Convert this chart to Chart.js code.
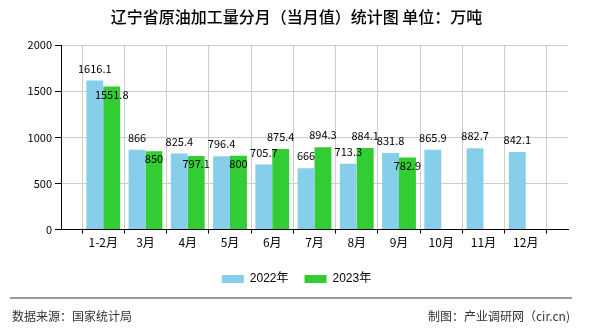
<!DOCTYPE html>
<html>
<head>
<meta charset="utf-8">
<script src="https://cdn.jsdelivr.net/npm/chart.js@4.4.0/dist/chart.umd.min.js"></script>
<style>
  body { margin: 0; background: #fff; }
  #wrap { position: relative; width: 590px; height: 330px; }
  #sep { position: absolute; left: 10px; top: 297px; width: 562px; height: 0; border-top: 2px solid #999; }
  .foot { position: absolute; top: 307px; font: 12px "Noto Sans CJK SC", sans-serif; color: #333; line-height: 18px; }
</style>
</head>
<body>
<div id="wrap">
  <canvas id="grafico" width="590" height="330"></canvas>
  <div id="sep"></div>
  <div class="foot" style="left:12px">数据来源：国家统计局</div>
  <div class="foot" style="right:20px">制图：产业调研网（cir.cn)</div>
</div>
<script>
const titulo = '辽宁省原油加工量分月（当月值）统计图 单位：万吨';
const categorias = ['1-2月', '3月', '4月', '5月', '6月', '7月', '8月', '9月', '10月', '11月', '12月'];
const series = ['2022年', '2023年'];
const valores2022 = [1616.1, 866, 825.4, 796.4, 705.7, 666, 713.3, 831.8, 865.9, 882.7, 842.1];
const valores2023 = [1551.8, 850, 797.1, 800, 875.4, 894.3, 884.1, 782.9, null, null, null];
const ticksY = [0, 500, 1000, 1500, 2000];

// one empty slot on each side, the axis runs from edge to edge
const etiquetas = [''].concat(categorias, ['']);
const rellenar = arr => [null].concat(arr, [null]);

const fuente = '"Noto Sans CJK SC", sans-serif';

const etiquetasDatos = {
  id: 'etiquetasDatos',
  afterDatasetsDraw(chart) {
    const ctx = chart.ctx;
    const m0 = chart.getDatasetMeta(0);
    const m1 = chart.getDatasetMeta(1);
    ctx.save();
    ctx.font = '11px ' + fuente;
    ctx.fillStyle = '#000';
    ctx.textAlign = 'center';
    ctx.textBaseline = 'middle';
    m0.data.forEach((el, i) => {
      const v = chart.data.datasets[0].data[i];
      if (v == null) return;
      ctx.fillText(String(v), el.x, el.y - 12);
    });
    m1.data.forEach((el, i) => {
      const v = chart.data.datasets[1].data[i];
      if (v == null) return;
      const otro = m0.data[i];
      // green label goes inside the bar when it would hit the blue one
      const choca = Math.abs(otro.y - el.y) < 14;
      ctx.fillText(String(v), el.x, choca ? el.y + 8 : el.y - 12);
    });
    ctx.restore();
  }
};

new Chart(document.getElementById('grafico').getContext('2d'), {
  type: 'bar',
  data: {
    labels: etiquetas,
    datasets: [{
      label: series[0],
      data: rellenar(valores2022),
      backgroundColor: '#87CEEB'
    }, {
      label: series[1],
      data: rellenar(valores2023),
      backgroundColor: '#32CD32'
    }]
  },
  options: {
    responsive: false,
    animation: false,
    layout: { padding: { left: 25, right: 22, bottom: 35 } },
    datasets: { bar: { categoryPercentage: 0.8, barPercentage: 1.0 } },
    plugins: {
      tooltip: { enabled: false },
      title: {
        display: true,
        text: titulo,
        color: '#000',
        font: { family: fuente, size: 16, weight: 500 },
        padding: { top: 7, bottom: 19 }
      },
      legend: {
        position: 'bottom',
        labels: {
          boxWidth: 22,
          boxHeight: 8,
          padding: 16,
          color: '#000',
          font: { family: '"Liberation Sans", "Noto Sans CJK SC", sans-serif', size: 12 }
        }
      }
    },
    scales: {
      x: {
        offset: false,
        grid: { color: '#ccc', tickColor: '#000', tickLength: 4 },
        border: { color: '#000' },
        ticks: { color: '#000', padding: 2, autoSkip: false, maxRotation: 0, font: { family: fuente, size: 12 } },
        afterFit: scale => { scale.height += 5; }
      },
      y: {
        min: 0,
        max: 2000,
        afterBuildTicks: scale => { scale.ticks = ticksY.map(v => ({ value: v })); },
        afterFit: scale => { scale.width = 36; },
        grid: { color: '#ccc', tickColor: '#000', tickLength: 6 },
        border: { color: '#000' },
        ticks: { color: '#000', padding: 3, font: { family: fuente, size: 11 }, callback: v => String(v) }
      }
    }
  },
  plugins: [etiquetasDatos]
});
</script>
</body>
</html>
